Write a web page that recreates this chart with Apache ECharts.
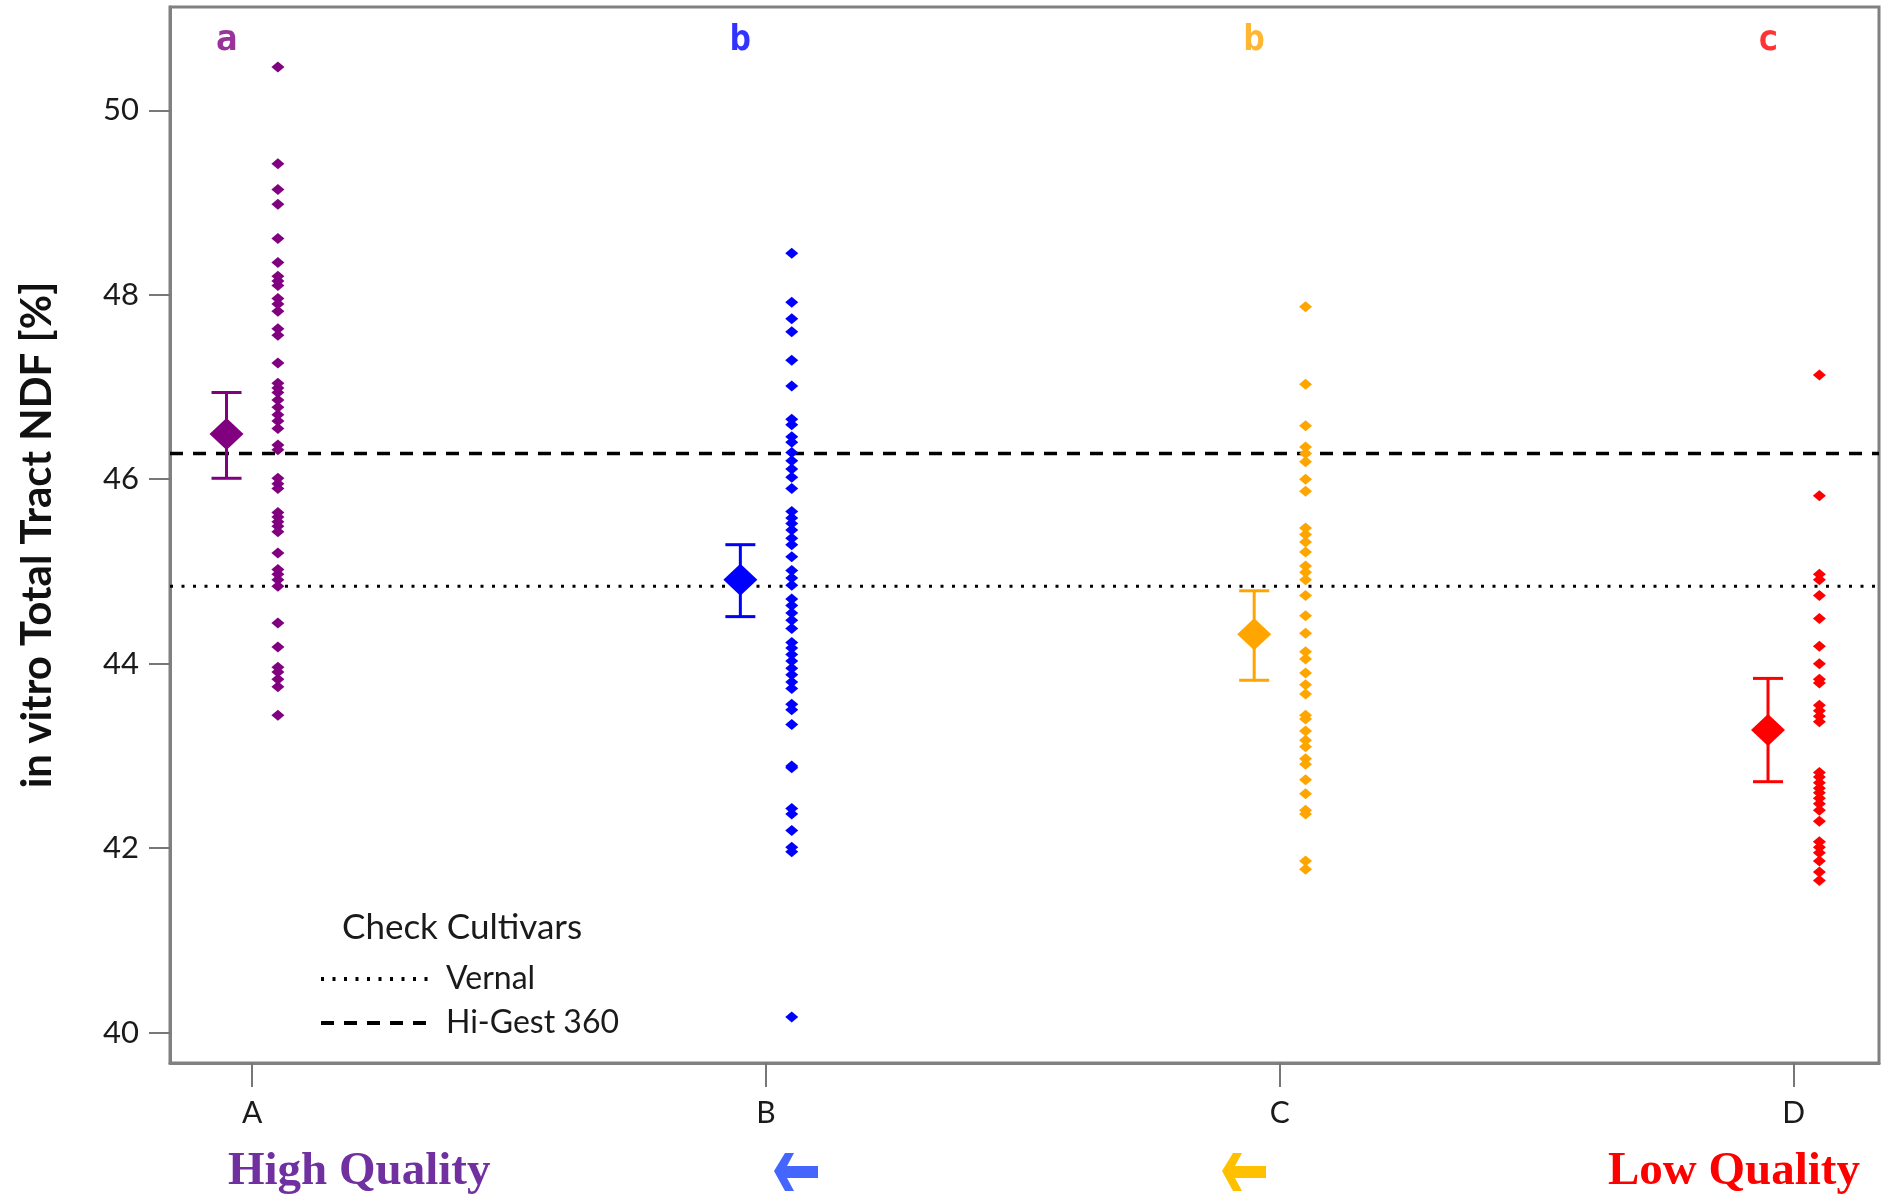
<!DOCTYPE html>
<html>
<head>
<meta charset="utf-8">
<script src="https://cdn.jsdelivr.net/npm/echarts@6/dist/echarts.min.js"></script>
<style>html,body{margin:0;padding:0;background:#fff;}#chart{width:1881px;height:1201px;}</style>
</head>
<body>
<div id="chart"></div>
<script>
const categories = ['A', 'B', 'C', 'D'];
const groupLetters = ['a', 'b', 'b', 'c'];
const yTicks = [40, 42, 44, 46, 48, 50];
const meanValues = [46.49, 44.91, 44.32, 43.28];
const errLow = [46.01, 44.51, 43.82, 42.72];
const errHigh = [46.94, 45.29, 44.79, 43.84];
const vernalValue = 44.84;
const hiGestValue = 46.28;
const valuesA = [50.47,49.42,49.14,48.98,48.61,48.35,48.2,48.15,48.1,47.96,47.9,47.82,47.63,47.56,47.26,47.04,46.99,46.94,46.86,46.78,46.70,46.63,46.55,46.37,46.32,46.01,45.95,45.90,45.64,45.59,45.54,45.49,45.43,45.20,45.02,44.97,44.91,44.84,44.44,44.18,43.96,43.91,43.83,43.75,43.44];
const valuesB = [48.45,47.92,47.74,47.60,47.29,47.01,46.65,46.59,46.46,46.40,46.29,46.20,46.11,46.02,45.90,45.65,45.58,45.52,45.45,45.36,45.29,45.16,45.01,44.93,44.85,44.70,44.63,44.55,44.47,44.38,44.23,44.17,44.10,44.03,43.95,43.88,43.80,43.73,43.56,43.50,43.34,42.89,42.87,42.43,42.37,42.19,42.01,41.96,40.17];
const valuesC = [47.87,47.03,46.58,46.35,46.28,46.19,46.00,45.87,45.47,45.40,45.32,45.21,45.06,44.99,44.91,44.74,44.52,44.33,44.13,44.05,43.90,43.77,43.67,43.44,43.40,43.27,43.17,43.10,42.97,42.91,42.74,42.59,42.41,42.37,41.86,41.77];
const valuesD = [47.13,45.82,44.97,44.91,44.74,44.49,44.19,44.00,43.83,43.79,43.55,43.49,43.43,43.37,42.82,42.77,42.71,42.65,42.60,42.54,42.48,42.41,42.29,42.07,42.01,41.95,41.86,41.74,41.65];

const groupValues = [valuesA, valuesB, valuesC, valuesD];
const colors = ['#800080', '#0000FF', '#FFA500', '#FF0000'];
const X_MIN = 0.84, X_MAX = 4.166, Y_MIN = 39.67, Y_MAX = 51.12;
const MEAN_OFF = -0.05, PT_OFF = 0.05;
const FONT = 'Lato, "Open Sans", sans-serif';

const chart = echarts.init(document.getElementById('chart'));

const series = [];
groupValues.forEach((vals, i) => {
  series.push({
    type: 'scatter', name: 'pts' + categories[i],
    symbol: 'diamond', symbolSize: [13, 11],
    itemStyle: { color: colors[i], opacity: 1 },
    data: vals.map(v => [i + 1 + PT_OFF, v]),
    z: 3, silent: true
  });
});
series.push({
  type: 'custom', name: 'errbars',
  data: meanValues.map((m, i) => [i + 1 + MEAN_OFF, errLow[i], errHigh[i], i]),
  renderItem: function (params, api) {
    const x = api.value(0);
    const lo = api.coord([x, api.value(1)]);
    const hi = api.coord([x, api.value(2)]);
    const c = colors[api.value(3)];
    const cap = 15;
    const st = { stroke: c, lineWidth: 3 };
    return {
      type: 'group',
      children: [
        { type: 'line', shape: { x1: lo[0], y1: lo[1], x2: hi[0], y2: hi[1] }, style: st },
        { type: 'line', shape: { x1: lo[0] - cap, y1: lo[1], x2: lo[0] + cap, y2: lo[1] }, style: st },
        { type: 'line', shape: { x1: hi[0] - cap, y1: hi[1], x2: hi[0] + cap, y2: hi[1] }, style: st }
      ]
    };
  },
  z: 4, silent: true
});
meanValues.forEach((m, i) => {
  series.push({
    type: 'scatter', name: 'mean' + categories[i],
    symbol: 'diamond', symbolSize: [34, 32],
    itemStyle: { color: colors[i], opacity: 1 },
    data: [[i + 1 + MEAN_OFF, m]],
    z: 5, silent: true
  });
});
series.push({
  type: 'scatter', name: 'letters',
  symbolSize: 0,
  data: groupLetters.map((l, i) => ({
    value: [i + 1 + MEAN_OFF, Y_MAX - 0.36], letter: l,
    label: { color: colors[i] }
  })),
  label: {
    show: true, position: 'inside',
    formatter: p => p.data.letter,
    fontSize: 36, fontWeight: 'bold', fontFamily: '"DejaVu Sans Mono", monospace'
  },
  z: 6, silent: true
});

series.push({
  type: 'line', name: 'Vernal',
  symbol: 'none',
  data: [[X_MIN, vernalValue], [X_MAX, vernalValue]],
  lineStyle: { color: '#000', width: 3, type: [3, 8.5] },
  itemStyle: { color: '#000' },
  z: 2, silent: true
});
series.push({
  type: 'line', name: 'Hi-Gest 360',
  symbol: 'none',
  data: [[X_MIN, hiGestValue], [X_MAX, hiGestValue]],
  lineStyle: { color: '#000', width: 3.5, type: [13, 10] },
  itemStyle: { color: '#000' },
  z: 2, silent: true
});

function arrow(cx, cy, color) {
  const pts = [[0,18],[11,0],[20,0],[13,13],[44,13],[44,25],[13,25],[20,38],[11,38]];
  return {
    type: 'polygon',
    shape: { points: pts.map(p => [cx - 22 + p[0], cy - 19 + p[1]]) },
    style: { fill: color }
  };
}

const option = {
  backgroundColor: '#fff',
  animation: false,
  title: {
    text: 'Check Cultivars', left: 337, top: 905,
    textStyle: { fontFamily: FONT, fontSize: 35, fontWeight: 'normal', color: '#1a1a1a' }
  },
  legend: {
    data: ['Vernal', 'Hi-Gest 360'],
    orient: 'vertical', left: 314, top: 958,
    itemWidth: 108, itemHeight: 28, itemGap: 12,
    selectedMode: false,
    itemStyle: { opacity: 0 },
    lineStyle: { width: 4 },
    textStyle: { fontFamily: FONT, fontSize: 32, color: '#1a1a1a', padding: [0, 0, 0, 12] }
  },
  grid: {
    left: 170, right: 2, top: 7, bottom: 138,
    show: true, borderColor: '#808080', borderWidth: 3, containLabel: false
  },
  xAxis: {
    type: 'value', min: X_MIN, max: X_MAX,
    splitLine: { show: false },
    axisLine: { show: true, lineStyle: { color: '#808080', width: 3 } },
    axisTick: { show: true, customValues: [1, 2, 3, 4], length: 24, lineStyle: { color: '#777', width: 2 } },
    axisLabel: {
      customValues: [1, 2, 3, 4],
      formatter: v => categories[Math.round(v) - 1] || '',
      fontFamily: FONT, fontSize: 30, color: '#1a1a1a', margin: 35
    }
  },
  yAxis: {
    type: 'value', min: Y_MIN, max: Y_MAX,
    name: 'in vitro Total Tract NDF [%]',
    nameLocation: 'middle', nameGap: 112,
    nameTextStyle: { fontFamily: FONT, fontSize: 42, fontWeight: 'bold', color: '#111' },
    splitLine: { show: false },
    axisLine: { show: true, lineStyle: { color: '#808080', width: 3 } },
    axisTick: { show: true, customValues: yTicks, length: 21, lineStyle: { color: '#777', width: 2 } },
    axisLabel: {
      customValues: yTicks,
      fontFamily: FONT, fontSize: 31, color: '#1a1a1a', margin: 31
    }
  },
  graphic: [
    {
      type: 'text', x: 228, y: 1172,
      style: { text: 'High Quality', font: 'bold 47px "Liberation Serif", serif', fill: '#7030A0', textAlign: 'left', textVerticalAlign: 'middle' }
    },
    {
      type: 'text', x: 1860, y: 1172,
      style: { text: 'Low Quality', font: 'bold 47px "Liberation Serif", serif', fill: '#FF0000', textAlign: 'right', textVerticalAlign: 'middle' }
    },
    arrow(796, 1172, '#4466FF'),
    arrow(1244, 1172, '#FFC000')
  ],
  series: series
};
chart.setOption(option);
</script>
</body>
</html>
